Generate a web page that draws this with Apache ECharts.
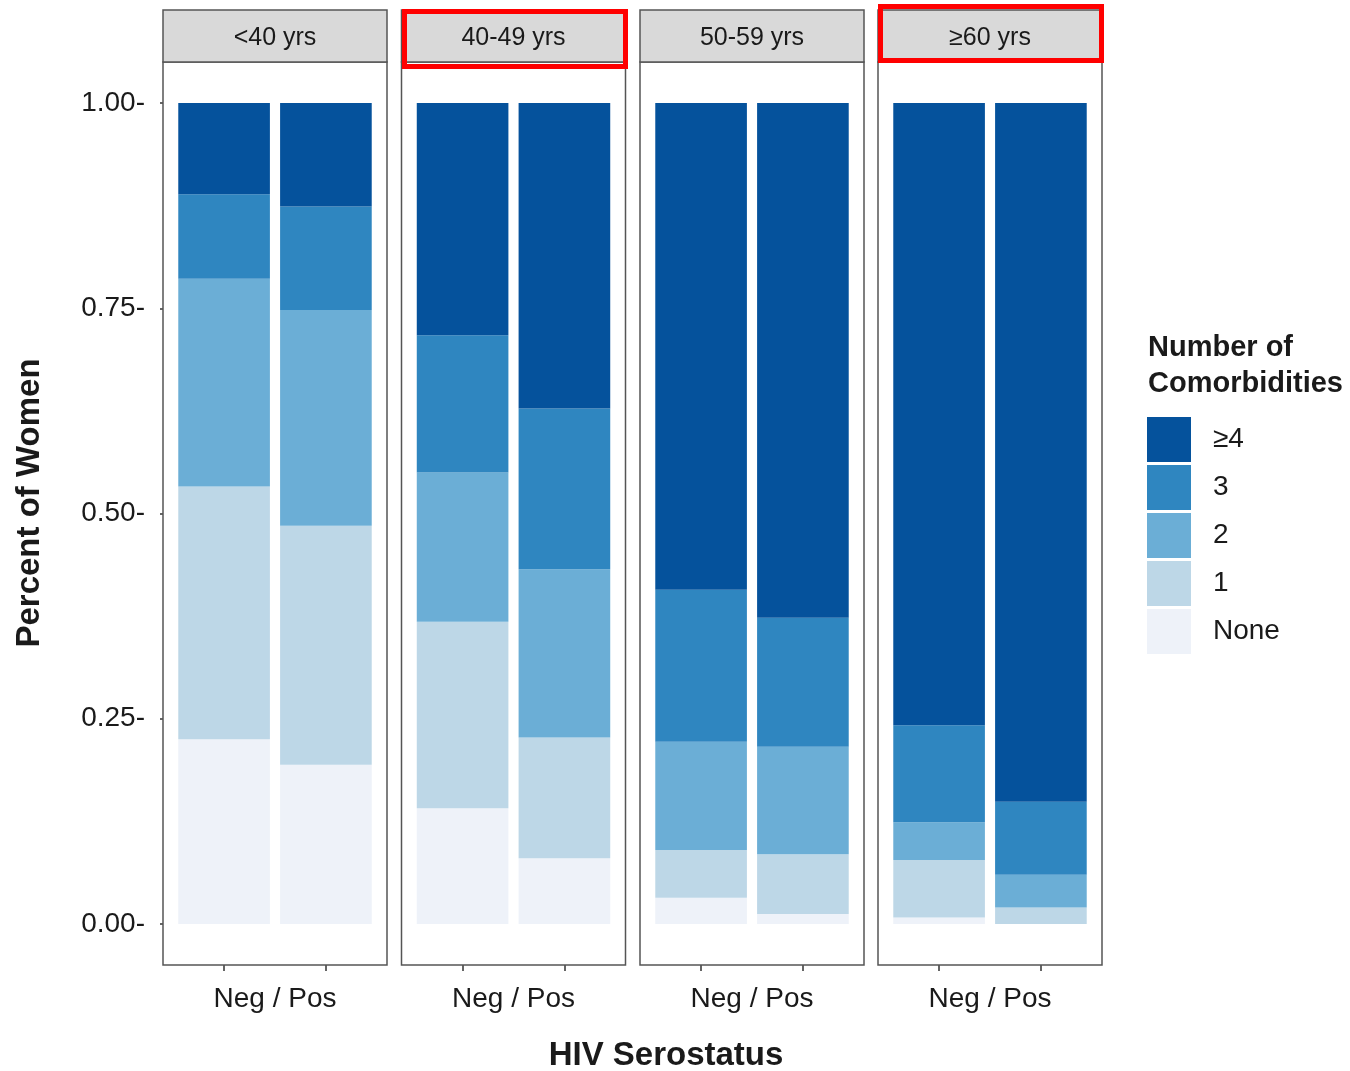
<!DOCTYPE html>
<html>
<head>
<meta charset="utf-8">
<title>Comorbidities by age group and HIV serostatus</title>
<script src="https://cdn.jsdelivr.net/npm/echarts@6/dist/echarts.min.js"></script>
<style>
  html, body { margin: 0; padding: 0; background: #ffffff; }
  #chart { width: 1350px; height: 1071px; }
</style>
</head>
<body>
<div id="chart"></div>
<script>
// Age-group facets
const ageGroups = ['<40 yrs', '40-49 yrs', '50-59 yrs', '≥60 yrs'];
// HIV serostatus, one bar each per facet
const statuses = ['Neg', 'Pos'];
// Comorbidity levels, bottom of the stack first
const levels = ['None', '1', '2', '3', '≥4'];
const legendOrder = ['≥4', '3', '2', '1', 'None'];
const levelColors = ['#eef2f9', '#bdd7e7', '#6baed6', '#2f86c0', '#05529c'];

// Share of women per level, one value per age group — HIV negative
const negNone  = [0.225, 0.141, 0.032, 0.008];
const negOne   = [0.308, 0.227, 0.058, 0.070];
const negTwo   = [0.253, 0.182, 0.132, 0.046];
const negThree = [0.103, 0.167, 0.185, 0.118];
const negFour  = [0.111, 0.283, 0.593, 0.758];

// Share of women per level, one value per age group — HIV positive
const posNone  = [0.194, 0.080, 0.012, 0.000];
const posOne   = [0.291, 0.147, 0.073, 0.020];
const posTwo   = [0.263, 0.205, 0.131, 0.040];
const posThree = [0.126, 0.196, 0.157, 0.089];
const posFour  = [0.126, 0.372, 0.627, 0.851];

// Y axis ticks
const yTicks = [0, 0.25, 0.5, 0.75, 1];
const xAxisTitle = 'HIV Serostatus';
const yAxisTitle = 'Percent of Women';
const facetAxisLabel = 'Neg / Pos';
const legendTitle = 'Number of\nComorbidities';
// facets whose strip is outlined in red
const highlighted = [1, 3];

const negByLevel = [negNone, negOne, negTwo, negThree, negFour];
const posByLevel = [posNone, posOne, posTwo, posThree, posFour];

// ---- layout ----
const FONT = '"Liberation Sans", Arial, Helvetica, sans-serif';
const TEXT = '#1a1a1a';
const BORDER = '#555555';
const panelLefts = [163, 401.5, 640, 878];
const panelWidth = 224;
const panelTop = 62;
const panelHeight = 903;
const stripTop = 10;
const stripHeight = 52;
// discrete scale spans 0.4..2.6 across the panel, so the two bands occupy 2 of 2.2 units
const unit = panelWidth / 2.2;
const inset = unit * 0.1;
const barWidth = unit * 0.9;

const grids = [], xAxes = [], yAxes = [], series = [], graphics = [];

ageGroups.forEach((group, g) => {
  grids.push({
    left: panelLefts[g] + inset, top: panelTop, width: unit * 2, height: panelHeight,
    show: false, containLabel: false
  });
  xAxes.push({
    gridIndex: g, type: 'category', data: statuses, boundaryGap: true,
    axisLine: { show: false, onZero: false },
    splitLine: { show: false },
    axisLabel: { show: false },
    axisTick: { show: true, alignWithLabel: true, length: 6, lineStyle: { color: '#333', width: 1.5 } },
    name: facetAxisLabel, nameLocation: 'middle', nameGap: 20,
    nameTextStyle: { fontFamily: FONT, fontSize: 28, color: TEXT, verticalAlign: 'top' }
  });
  const first = g === 0;
  yAxes.push({
    gridIndex: g, type: 'value', min: -0.05, max: 1.05,
    offset: inset,
    axisLine: { show: false },
    splitLine: { show: false },
    axisTick: { show: first, customValues: yTicks, length: 3, lineStyle: { color: '#333', width: 1.5 } },
    axisLabel: {
      show: first, customValues: yTicks, margin: 18,
      fontFamily: FONT, fontSize: 28, color: TEXT,
      formatter: v => v.toFixed(2) + '-'
    }
  });
  levels.forEach((lvl, l) => {
    series.push({
      type: 'bar', name: lvl,
      xAxisIndex: g, yAxisIndex: g,
      stack: 'facet' + g,
      barWidth: barWidth,
      itemStyle: { color: levelColors[l] },
      emphasis: { disabled: true },
      data: [negByLevel[l][g], posByLevel[l][g]]
    });
  });

  // panel border
  graphics.push({
    type: 'rect', z: 10,
    shape: { x: panelLefts[g], y: panelTop, width: panelWidth, height: panelHeight },
    style: { fill: 'none', stroke: BORDER, lineWidth: 1.5 }
  });
  // facet strip
  graphics.push({
    type: 'rect', z: 10,
    shape: { x: panelLefts[g], y: stripTop, width: panelWidth, height: stripHeight },
    style: { fill: '#d9d9d9', stroke: BORDER, lineWidth: 1.5 }
  });
  graphics.push({
    type: 'text', z: 11,
    x: panelLefts[g] + panelWidth / 2, y: stripTop + stripHeight / 2 + 2,
    style: { text: group, font: '25px ' + FONT, fill: TEXT, align: 'center', verticalAlign: 'middle' }
  });
});

// red outlines around highlighted strips
const highlightBoxes = [
  { x: 404.5, y: 11.5, width: 221, height: 55 },
  { x: 880.5, y: 6.5, width: 221, height: 54 }
];
highlighted.forEach((g, i) => {
  graphics.push({
    type: 'rect', z: 20,
    shape: highlightBoxes[i],
    style: { fill: 'none', stroke: '#ff0000', lineWidth: 5 }
  });
});

// axis titles
graphics.push({
  type: 'text', z: 11, x: 666, y: 1056,
  style: { text: xAxisTitle, font: 'bold 33px ' + FONT, fill: TEXT, align: 'center', verticalAlign: 'middle' }
});
graphics.push({
  type: 'text', z: 11, x: 30, y: 503, rotation: Math.PI / 2,
  style: { text: yAxisTitle, font: 'bold 33px ' + FONT, fill: TEXT, align: 'center', verticalAlign: 'middle' }
});

const chart = echarts.init(document.getElementById('chart'), null, { renderer: 'canvas' });
chart.setOption({
  animation: false,
  backgroundColor: '#ffffff',
  title: {
    text: legendTitle, left: 1148, top: 330, padding: 0,
    textStyle: { fontFamily: FONT, fontSize: 29, fontWeight: 'bold', color: TEXT, lineHeight: 36 }
  },
  legend: {
    data: legendOrder, orient: 'vertical', left: 1147, top: 417, padding: 0,
    icon: 'rect', itemWidth: 44, itemHeight: 45, itemGap: 3,
    selectedMode: false,
    textStyle: { fontFamily: FONT, fontSize: 28, color: TEXT, padding: [4, 0, 0, 17] }
  },
  grid: grids,
  xAxis: xAxes,
  yAxis: yAxes,
  series: series,
  graphic: graphics
});
</script>
</body>
</html>
